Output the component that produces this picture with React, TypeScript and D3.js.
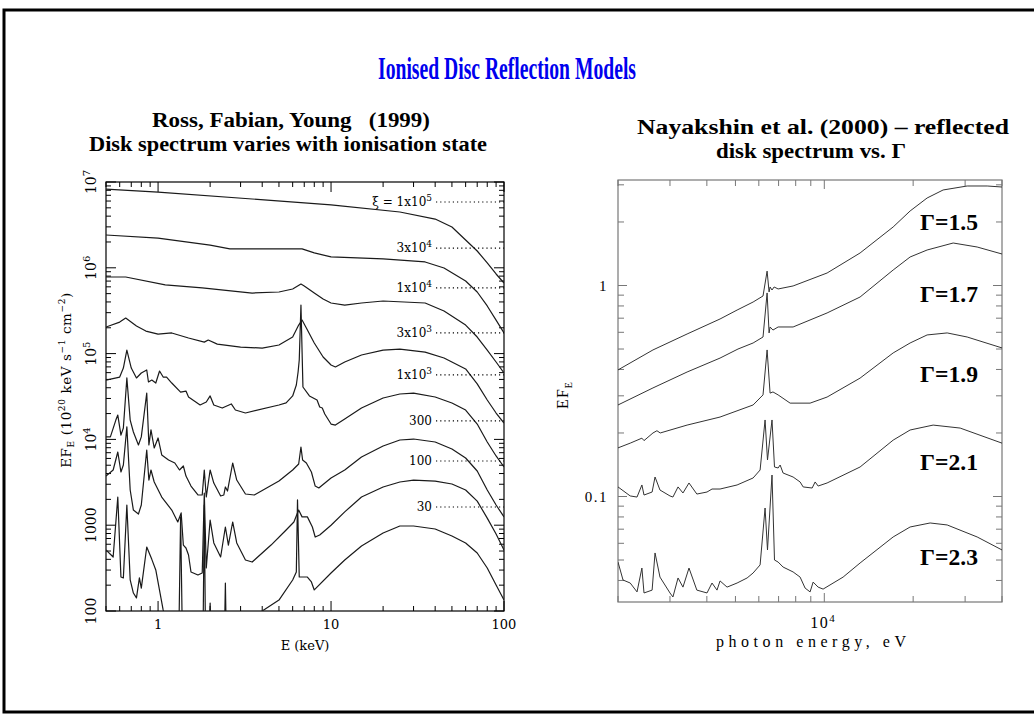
import React from 'react';
import * as d3 from 'd3';

type Pt = [number, number];

// ---- Ross, Fabian & Young (1999): EF_E (1e20 keV s^-1 cm^-2) vs E (keV) ----
const xi1e5: Pt[] = [[0.5,8.28e6],[1,7.64e6],[3.5,6.34e6],[10,5.4e6],[25,4.47e6],[40,3.7e6],[50,2.99e6],[60,2.11e6],[70,1.57e6],[80,1.14e6],[90,8.47e5],[100,6.65e5]];
const xi3e4: Pt[] = [[0.5,2.41e6],[1,2.22e6],[2,1.84e6],[2.6,1.66e6],[6.8,1.66e6],[8,1.49e6],[10,1.34e6],[20,1.27e6],[35,1.17e6],[45,9.95e5],[60,7.02e5],[70,5.22e5],[80,3.59e5],[90,2.46e5],[100,1.74e5]];
const xi1e4: Pt[] = [[0.5,7.81e5],[0.65,7.81e5],[1.1,6.31e5],[1.8,5.82e5],[3.5,5.08e5],[5,5.22e5],[6,5.66e5],[6.7,6.47e5],[7,6.14e5],[8,5.08e5],[9,4.32e5],[10,3.89e5],[12,3.68e5],[15,3.89e5],[20,4.1e5],[35,3.89e5],[45,3.14e5],[60,2.15e5],[70,1.56e5],[80,1.1e5],[90,7.98e4],[100,5.94e4]];
const xi3e3: Pt[] = [[0.5,2.04e5],[0.6,2.33e5],[0.65,2.6e5],[0.75,2.1e5],[0.85,1.83e5],[1,1.69e5],[1.2,1.74e5],[1.5,1.52e5],[1.85,1.36e5],[1.95,1.44e5],[2.2,1.29e5],[3,1.19e5],[4,1.16e5],[5,1.26e5],[6,1.56e5],[6.5,2.15e5],[6.8,2.46e5],[7.2,1.99e5],[8,1.33e5],[9,9.12e4],[10,7.36e4],[10.6,6.98e4],[12,7.98e4],[15,9.64e4],[20,1.1e5],[25,1.13e5],[35,1.04e5],[45,8.89e4],[60,6.62e4],[70,4.43e4],[80,2.88e4],[90,2.03e4],[100,1.55e4]];
const xi1e3: Pt[] = [[0.5,4.9e4],[0.6,5.33e4],[0.63,6.79e4],[0.66,1.1e5],[0.7,6.79e4],[0.75,5.2e4],[0.8,5.94e4],[0.86,6.44e4],[0.88,4.67e4],[0.92,4.92e4],[0.97,4.54e4],[1.02,6.27e4],[1.07,5.33e4],[1.12,5.33e4],[1.2,4.54e4],[1.35,3.56e4],[1.45,3.66e4],[1.5,3.12e4],[1.75,2.52e4],[1.9,2.73e4],[2.0,3.21e4],[2.1,2.52e4],[2.35,2.32e4],[2.65,2.59e4],[2.8,2.2e4],[3.2,2.03e4],[5,2.52e4],[5.5,2.66e4],[6,3.21e4],[6.3,4.31e4],[6.45,6.1e4],[6.55,8.42e4],[6.7,3.68e5],[6.88,4.08e4],[7.5,3.21e4],[8.3,2.88e4],[8.6,2.39e4],[8.9,2.32e4],[9.2,1.98e4],[10,1.51e4],[10.6,1.47e4],[12,1.73e4],[15,2.32e4],[20,3.04e4],[25,3.38e4],[30,3.47e4],[40,3.12e4],[50,2.66e4],[60,2.2e4],[70,1.51e4],[80,9.33e3],[90,6.41e3],[100,4.77e3]];
const xi300: Pt[] = [[0.5,1.07e4],[0.53,1.07e4],[0.57,1.68e4],[0.585,1.92e4],[0.61,1.12e4],[0.63,1.36e4],[0.66,5.2e4],[0.69,1.68e4],[0.72,1.22e4],[0.77,8.61e3],[0.8,1.07e4],[0.86,3.47e4],[0.885,8.61e3],[0.91,1.29e4],[0.95,7.94e3],[1.0,1.04e4],[1.05,6.58e3],[1.15,5.75e3],[1.25,5.31e3],[1.33,4.4e3],[1.4,4.9e3],[1.45,3.74e3],[1.55,2.86e3],[1.7,2.25e3],[1.8,2.25e3],[1.85,4.4e3],[1.9,2.13e3],[2.0,4.4e3],[2.1,3.1e3],[2.3,2.19e3],[2.4,2.25e3],[2.45,2.79e3],[2.52,2.5e3],[2.7,5.31e3],[2.85,3.36e3],[3.2,2.31e3],[3.6,2.25e3],[5,3.27e3],[6,4.4e3],[6.5,5.17e3],[6.7,8.15e3],[6.85,5.75e3],[7.2,5.31e3],[7.7,4.17e3],[8.1,2.86e3],[8.5,2.72e3],[10,3.55e3],[12,4.4e3],[15,6.24e3],[20,8.37e3],[25,9.84e3],[30,1.01e4],[40,9.33e3],[50,7.73e3],[60,6.07e3],[70,4.28e3],[80,2.57e3],[90,1.72e3],[100,1.25e3]];
const xi100: Pt[] = [[0.5,3.74e3],[0.55,4.4e3],[0.585,7.13e3],[0.61,4.17e3],[0.63,5.03e3],[0.66,1.4e4],[0.69,2.57e3],[0.72,1.5e3],[0.77,1.35e3],[0.8,1.72e3],[0.86,7.52e3],[0.885,3.36e3],[0.91,4.4e3],[0.95,3.19e3],[1.05,2.13e3],[1.2,1.5e3],[1.3,1.09e3],[1.36,1.39e3],[1.4,587],[1.45,542],[1.5,449],[1.55,285],[1.7,263],[1.8,277],[1.85,2.37e3],[1.9,317],[2.0,1.15e3],[2.1,621],[2.3,426],[2.45,953],[2.55,587],[2.7,1.09e3],[2.85,621],[3.2,393],[3.5,372],[4.5,587],[5.5,879],[6.1,1.09e3],[6.5,1.5e3],[6.8,1.25e3],[7.3,1.25e3],[7.8,953],[8.1,728],[8.6,769],[10,1.0e3],[12,1.43e3],[15,2.13e3],[20,2.79e3],[25,3.19e3],[30,3.36e3],[40,3.27e3],[50,3.02e3],[60,2.57e3],[70,1.91e3],[80,1.21e3],[90,789],[100,514]];
const xi30: Pt[] = [[0.5,514],[0.55,426],[0.585,2.13e3],[0.61,249],[0.63,243],[0.66,1.72e3],[0.69,230],[0.72,162],[0.75,142],[0.78,243],[0.8,185],[0.86,557],[0.92,400],[0.97,301],[1.07,103],[1.12,70],[1.32,60],[1.35,1.25e3],[1.38,60],[1.82,50],[1.85,1.72e3],[1.88,50],[1.97,50],[2.0,124],[2.03,50],[2.42,50],[2.45,212],[2.48,50],[3.5,70],[4.0,100],[5,134],[6,230],[6.3,285],[6.4,1.97e3],[6.55,249],[7.3,249],[7.7,218],[8.0,176],[10,277],[12,393],[15,573],[20,811],[25,979],[30,979],[40,903],[50,748],[60,621],[70,474],[80,317],[90,201],[100,134]];

const xiCurves: Pt[][] = [xi1e5, xi3e4, xi1e4, xi3e3, xi1e3, xi300, xi100, xi30];
// ionisation parameter labels: [text, superscript]
const xiLabels: [string, string][] = [
  ['\u03be = 1x10', '5'], ['3x10', '4'], ['1x10', '4'], ['3x10', '3'],
  ['1x10', '3'], ['300', ''], ['100', ''], ['30', ''],
];
const xiLabelLevels = [5.85e6, 1.7e6, 5.82e5, 1.74e5, 5.64e4, 1.64e4, 5.6e3, 1.63e3];

const leftXTickLabels: [number, string][] = [[1, '1'], [10, '10'], [100, '100']];
const leftYTickLabels: [number, string, string][] = [
  [100, '100', ''], [1000, '1000', ''], [1e4, '10', '4'], [1e5, '10', '5'], [1e6, '10', '6'], [1e7, '10', '7'],
];

// ---- Nayakshin et al. (2000): EF_E vs photon energy (eV) ----
const g15: Pt[] = [[2000,0.398],[2627,0.495],[3428,0.589],[4434,0.694],[5064,0.765],[5738,0.835],[6200,0.892],[6400,1.17],[6500,0.932],[6550,0.984],[6650,0.952],[6760,0.984],[6975,0.963],[7840,0.995],[10220,1.146],[13220,1.426],[17110,1.894],[19530,2.255],[22300,2.598],[25270,2.836],[30480,2.962],[35630,2.962],[40000,2.929]];
const g17: Pt[] = [[2000,0.2715],[2627,0.327],[3428,0.389],[4434,0.453],[5100,0.5],[5738,0.534],[6200,0.57],[6400,0.922],[6500,0.596],[6550,0.636],[6700,0.615],[6975,0.636],[7840,0.636],[10220,0.741],[13220,0.882],[17110,1.184],[19530,1.365],[22300,1.473],[27330,1.59],[32950,1.522],[40000,1.41]];
const g19: Pt[] = [[2000,0.17],[2200,0.179],[2410,0.189],[2450,0.184],[2627,0.2],[2710,0.205],[2780,0.2],[3428,0.218],[4434,0.238],[5738,0.2715],[6200,0.303],[6400,0.495],[6550,0.309],[6700,0.313],[6975,0.303],[7660,0.277],[8950,0.277],[10220,0.296],[13220,0.364],[17110,0.479],[19530,0.534],[22300,0.583],[26080,0.596],[30480,0.57],[40000,0.506]];
const g21: Pt[] = [[2000,0.111],[2200,0.1006],[2320,0.0994],[2410,0.1134],[2450,0.1016],[2610,0.105],[2670,0.1237],[2775,0.1073],[3000,0.1006],[3070,0.0994],[3195,0.111],[3320,0.1039],[3480,0.1159],[3700,0.1027],[4005,0.105],[4165,0.1085],[4434,0.1085],[5064,0.1134],[5738,0.1224],[6060,0.1335],[6300,0.2305],[6420,0.149],[6650,0.2305],[6780,0.138],[6975,0.1365],[7085,0.141],[7250,0.1292],[7840,0.1237],[8280,0.1172],[8480,0.111],[9095,0.1097],[9310,0.1172],[9530,0.1121],[10220,0.1159],[13220,0.138],[17110,0.185],[19530,0.2066],[23375,0.218],[28860,0.211],[40000,0.179]];
const g23: Pt[] = [[2000,0.0489],[2080,0.0402],[2200,0.0389],[2320,0.0353],[2410,0.0458],[2450,0.0349],[2610,0.036],[2670,0.054],[2775,0.0415],[3000,0.0349],[3070,0.0334],[3195,0.0411],[3320,0.0372],[3480,0.0458],[3700,0.036],[4005,0.0349],[4165,0.0389],[4330,0.036],[4434,0.0398],[4683,0.0372],[5064,0.0389],[5476,0.0411],[5738,0.0434],[6060,0.0474],[6300,0.0882],[6420,0.0558],[6650,0.1264],[6780,0.05],[6975,0.0489],[7250,0.0463],[7840,0.0439],[8280,0.0415],[8610,0.0368],[8950,0.0353],[9166,0.0393],[9530,0.0372],[9907,0.0364],[11580,0.0415],[13220,0.0484],[17110,0.0643],[19530,0.0717],[22830,0.0749],[26080,0.0733],[32950,0.0643],[40000,0.0558]];

const gammaCurves: Pt[][] = [g15, g17, g19, g21, g23];
const gammaLabels = ['\u0393=1.5', '\u0393=1.7', '\u0393=1.9', '\u0393=2.1', '\u0393=2.3'];
const gammaLabelLevels = [1.832, 0.835, 0.349, 0.1336, 0.0473];

const rightYTickLabels: [number, string][] = [[1, '1'], [0.1, '0.1']];
const rightXTickLabels: [number, string, string][] = [[1e4, '10', '4']];

const isDecade = (v: number) => Math.abs(Math.log10(v) - Math.round(Math.log10(v))) < 1e-6;

const PG = '"DejaVu Serif", serif';
const HERSHEY = '"Liberation Serif", "Times New Roman", serif';
const TIMES = '"Liberation Serif", "Times New Roman", serif';

export default function App() {
  // left panel
  const xL = d3.scaleLog().domain([0.5, 100]).range([106, 504]);
  const yL = d3.scaleLog().domain([100, 1e7]).range([611, 182]);
  const lineL = d3.line<Pt>().x(d => xL(d[0])).y(d => yL(d[1]));
  const [lx0, lx1] = xL.range();
  const [ly0, ly1] = yL.range();

  // right panel
  const xR = d3.scaleLog().domain([2000, 40000]).range([618, 1002]);
  const yR = d3.scaleLog().domain([Math.pow(10, -1.5), Math.pow(10, 0.5)]).range([602, 180]);
  const lineR = d3.line<Pt>().x(d => xR(d[0])).y(d => yR(d[1]));
  const [rx0, rx1] = xR.range();
  const [ry0, ry1] = yR.range();

  const lxTicks = xL.ticks();
  const lyTicks = yL.ticks();
  const rxTicks = xR.ticks();
  const ryTicks = yR.ticks();

  return (
    <svg width={1034} height={722} style={{ position: 'absolute', left: 0, top: 0, background: '#fff' }}>
      <defs>
        <clipPath id="clipL"><rect x={lx0} y={ly1} width={lx1 - lx0} height={ly0 - ly1} /></clipPath>
        <clipPath id="clipR"><rect x={rx0} y={ry1} width={rx1 - rx0} height={ry0 - ry1} /></clipPath>
      </defs>
      <rect x={0} y={0} width={1034} height={722} fill="#fff" />
      <rect x={4} y={10} width={1060} height={702} fill="none" stroke="#000" strokeWidth={3} />

      {/* Titles */}
      <text x={507} y={79} textAnchor="middle" fill="#0000ee" fontFamily={TIMES} fontWeight="bold" fontSize={31}
        textLength={258} lengthAdjust="spacingAndGlyphs">Ionised Disc Reflection Models</text>
      <text x={291} y={127} textAnchor="middle" fontFamily={TIMES} fontWeight="bold" fontSize={20}
        textLength={278} lengthAdjust="spacingAndGlyphs" style={{ whiteSpace: 'pre' }}>Ross, Fabian, Young   (1999)</text>
      <text x={288} y={151} textAnchor="middle" fontFamily={TIMES} fontWeight="bold" fontSize={20}
        textLength={398} lengthAdjust="spacingAndGlyphs">Disk spectrum varies with ionisation state</text>
      <text x={823} y={134} textAnchor="middle" fontFamily={TIMES} fontWeight="bold" fontSize={20}
        textLength={372} lengthAdjust="spacingAndGlyphs">Nayakshin et al. (2000) – reflected</text>
      <text x={811} y={158} textAnchor="middle" fontFamily={TIMES} fontWeight="bold" fontSize={20}
        textLength={190} lengthAdjust="spacingAndGlyphs">disk spectrum vs. Γ</text>

      {/* ---------- Left panel ---------- */}
      <g>
        <rect x={lx0} y={ly1} width={lx1 - lx0} height={ly0 - ly1} fill="none" stroke="#000" strokeWidth={1.2} />
        {lxTicks.map((t, i) => {
          const x = xL(t);
          const len = isDecade(t) ? 10 : 5;
          return (
            <g key={'lx' + i} stroke="#000" strokeWidth={1}>
              <line x1={x} x2={x} y1={ly0} y2={ly0 - len} />
              <line x1={x} x2={x} y1={ly1} y2={ly1 + len} />
            </g>
          );
        })}
        {lyTicks.map((t, i) => {
          const y = yL(t);
          const len = isDecade(t) ? 10 : 5;
          return (
            <g key={'ly' + i} stroke="#000" strokeWidth={1}>
              <line x1={lx0} x2={lx0 + len} y1={y} y2={y} />
              <line x1={lx1} x2={lx1 - len} y1={y} y2={y} />
            </g>
          );
        })}
        {leftXTickLabels.map(([v, s]) => (
          <text key={'lxl' + v} x={xL(v)} y={629} textAnchor="middle" fontFamily={PG} fontSize={13}>{s}</text>
        ))}
        {leftYTickLabels.map(([v, b, e]) => (
          <text key={'lyl' + v} x={96} y={yL(v)} transform={`rotate(-90 96 ${yL(v)})`} textAnchor="middle"
            fontFamily={PG} fontSize={14}>
            {b}{e ? <tspan dy={-6} fontSize={10}>{e}</tspan> : null}
          </text>
        ))}
        <text x={305} y={650} textAnchor="middle" fontFamily={PG} fontSize={13}>E (keV)</text>
        <text x={71} y={380} transform="rotate(-90 71 380)" textAnchor="middle" fontFamily={PG} fontSize={13.5}
          letterSpacing={0.6}>
          EF<tspan dy={3} fontSize={9}>E</tspan>
          <tspan dy={-3}> (10</tspan><tspan dy={-6} fontSize={9}>20</tspan>
          <tspan dy={6}> keV s</tspan><tspan dy={-6} fontSize={9}>−1</tspan>
          <tspan dy={6}> cm</tspan><tspan dy={-6} fontSize={9}>−2</tspan>
          <tspan dy={6}>)</tspan>
        </text>

        <g clipPath="url(#clipL)" fill="none" stroke="#1a1a1a" strokeWidth={1.2} strokeLinejoin="round">
          {xiCurves.map((c, i) => <path key={'xc' + i} d={lineL(c) || ''} />)}
        </g>

        {xiLabels.map(([t, s], i) => {
          const y = yL(xiLabelLevels[i]);
          return (
            <g key={'xil' + i}>
              <text x={432} y={y + 4} textAnchor="end" fontFamily={PG} fontSize={12}>
                {t}{s ? <tspan dy={-5} fontSize={9}>{s}</tspan> : null}
              </text>
              <line x1={436} x2={lx1} y1={y} y2={y} stroke="#000" strokeWidth={1.2} strokeDasharray="1.2 3" />
            </g>
          );
        })}
      </g>

      {/* ---------- Right panel ---------- */}
      <g>
        <rect x={rx0} y={ry1} width={rx1 - rx0} height={ry0 - ry1} fill="none" stroke="#777" strokeWidth={1.2} />
        {rxTicks.map((t, i) => {
          const x = xR(t);
          const len = isDecade(t) ? 9 : 6;
          return (
            <g key={'rx' + i} stroke="#777" strokeWidth={1}>
              <line x1={x} x2={x} y1={ry0} y2={ry0 - len} />
              <line x1={x} x2={x} y1={ry1} y2={ry1 + len} />
            </g>
          );
        })}
        {ryTicks.map((t, i) => {
          const y = yR(t);
          const len = isDecade(t) ? 9 : 6;
          return (
            <g key={'ry' + i} stroke="#777" strokeWidth={1}>
              <line x1={rx0} x2={rx0 + len} y1={y} y2={y} />
              <line x1={rx1} x2={rx1 - len} y1={y} y2={y} />
            </g>
          );
        })}
        {rightYTickLabels.map(([v, s]) => (
          <text key={'ryl' + v} x={608} y={yR(v) + 5} textAnchor="end" fontFamily={HERSHEY} fontSize={15}
            letterSpacing={1.5}>{s}</text>
        ))}
        {rightXTickLabels.map(([v, b, e]) => (
          <text key={'rxl' + v} x={xR(v) - 1} y={628} textAnchor="middle" fontFamily={HERSHEY} fontSize={16}
            letterSpacing={1.5}>
            {b}<tspan dy={-6} fontSize={11}>{e}</tspan>
          </text>
        ))}
        <text x={811} y={647} textAnchor="middle" fontFamily={HERSHEY} fontSize={16} textLength={190}
          lengthAdjust="spacing">photon energy, eV</text>
        <text x={568} y={395} transform="rotate(-90 568 395)" textAnchor="middle" fontFamily={HERSHEY} fontSize={16}
          letterSpacing={1}>
          EF<tspan dy={4} fontSize={10}>E</tspan>
        </text>

        <g clipPath="url(#clipR)" fill="none" stroke="#333" strokeWidth={1}>
          {gammaCurves.map((c, i) => <path key={'gc' + i} d={lineR(c) || ''} />)}
        </g>

        {gammaLabels.map((t, i) => (
          <text key={'gl' + i} x={920} y={yR(gammaLabelLevels[i])} fontFamily={TIMES} fontWeight="bold" fontSize={23}
            textLength={58} lengthAdjust="spacingAndGlyphs">{t}</text>
        ))}
      </g>
    </svg>
  );
}
